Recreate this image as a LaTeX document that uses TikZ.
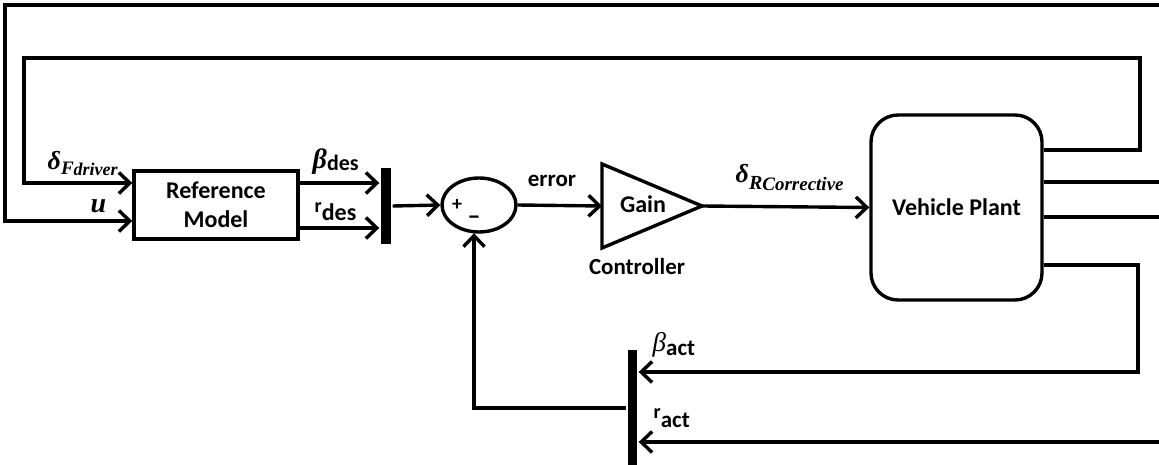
\documentclass[tikz,border=0pt]{standalone}
\usepackage{fontspec}
\setmainfont{Carlito}
\newfontfamily\eqf{Liberation Serif}
\usetikzlibrary{arrows.meta,shapes.geometric,calc}

% equation-style symbols: bold italic serif letters
\newcommand{\eqbi}[2]{{\fontsize{#1}{#1}\selectfont\eqf\bfseries\itshape #2}}
\newcommand{\eqit}[2]{{\fontsize{#1}{#1}\selectfont\eqf\itshape #2}}
\newcommand{\subsf}[3]{\raisebox{#2}{\fontsize{#1}{#1}\selectfont\bfseries #3}}

\begin{document}
\begin{tikzpicture}[x=1pt,y=-1pt,line width=3.4pt,line join=miter,
  sig/.style={-{Straight Barb[length=11pt,width=21pt]}},
  blockbox/.style={draw,inner sep=0pt,align=center,font=\fontsize{24}{29}\selectfont\bfseries},
  barnode/.style={fill=black,draw=none,inner sep=0pt,minimum width=10pt},
  lbl/.style={inner sep=0pt,font=\fontsize{23}{26}\selectfont\bfseries},
  sym/.style={inner sep=0pt,anchor=base west}]
\useasboundingbox (0,0) rectangle (1159,465);

% blocks
\node[blockbox,minimum width=164pt,minimum height=68pt] (rm) at (216,205) {Reference\\Model};
\node[barnode,minimum height=75pt] (muxA) at (386,206) {};
\node[draw,ellipse,inner sep=0pt,minimum width=74pt,minimum height=54pt] (sum) at (479,205) {};
\node[inner sep=0pt,font=\fontsize{20}{20}\selectfont\bfseries] (plus) at (457,205) {+};
\node[inner sep=0pt,font=\fontsize{26}{26}\selectfont\bfseries] (minus) at (474,220) {–};

% gain triangle
\coordinate (gIn) at (602,206);
\coordinate (gOut) at (702,206);
\draw (602,164) -- (gOut) -- (602,248) -- cycle;
\node[lbl,font=\fontsize{24}{26}\selectfont\bfseries] (gain) at (643,204) {Gain};
\node[lbl] (ctrl) at (637,267) {Controller};

\node[blockbox,rounded corners=27pt,minimum width=171pt,minimum height=185pt] (plant) at (956.5,207.5) {Vehicle Plant};
\node[barnode,minimum width=9pt,minimum height=130pt] (muxB) at (632.5,415) {};

% helper heights
\coordinate (yU) at (0,221);
\coordinate (yDF) at (0,183);
\coordinate (yBd) at (0,183);
\coordinate (yRd) at (0,228);
\coordinate (yBa) at (0,372);
\coordinate (yRa) at (0,442);
\coordinate (yFb) at (0,408);
\coordinate (uSrc) at (1159,5);
\coordinate (raSrc) at (1159,442);
\coordinate (outA) at (1159,182);
\coordinate (outB) at (1159,217);

% driver inputs
\draw[sig] (uSrc) -- (5,5) -- (5,221) -- (rm.west |- yU);
\draw[sig] ($(plant.east)+(0,-57.5)$) -| (1140,58) -| (24,183) -- (rm.west |- yDF);

% desired signals into the mux
\draw[sig] (rm.east |- yBd) -- (muxA.west |- yBd);
\draw[sig] (rm.east |- yRd) -- (muxA.west |- yRd);
\draw[sig] (muxA.east) -- (sum.west);

% forward path
\draw[sig] (sum.east) -- (gIn);
\draw[sig] (gOut) -- (plant.west);

% plant outputs
\draw ($(plant.east)+(0,-25.5)$) -- (outA);
\draw ($(plant.east)+(0,9.5)$) -- (outB);
\draw[sig] ($(plant.east)+(0,57.5)$) -| (1138,372) -- (muxB.east |- yBa);
\draw[sig] (raSrc) -- (muxB.east |- yRa);

% feedback to the summing junction
\draw[sig] (muxB.west |- yFb) -| ($(sum.south)+(-5,-0.5)$);

% labels
\node[sym] (lDF) at (46,170) {\eqbi{26}{δ}\raisebox{-5pt}{\eqbi{19}{F}\raisebox{-1pt}{\eqbi{18}{driver}}}};
\node[sym] (lU) at (89,213) {\eqbi{28}{u}};
\node[sym] (lBd) at (311,169) {\eqbi{28}{β}\subsf{22}{-2pt}{des}};
\node[sym] (lRd) at (313,213) {\subsf{20}{0pt}{r}\subsf{24}{-8pt}{des}};
\node[lbl] (lErr) at (552,181) {error};
\node[sym] (lDR) at (734,183) {\eqbi{26}{δ}\raisebox{-6pt}{\eqbi{20}{R}\raisebox{-2pt}{\eqbi{19}{Corrective}}}};
\node[sym] (lBa) at (651,351) {\eqit{27}{β}\subsf{23}{-4pt}{act}};
\node[sym] (lRa) at (652,418) {\subsf{20}{0pt}{r}\subsf{23}{-9pt}{act}};
\end{tikzpicture}
\end{document}
